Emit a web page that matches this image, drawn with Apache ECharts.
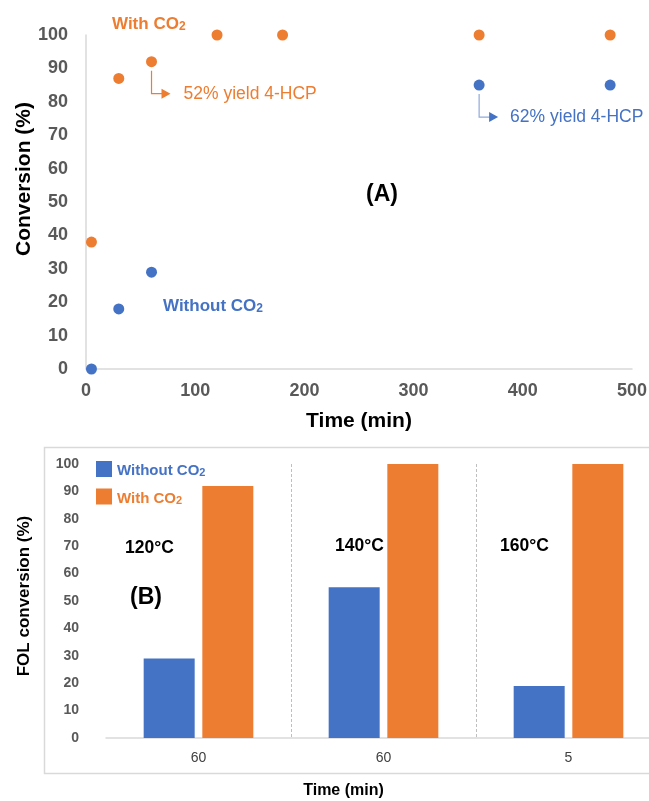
<!DOCTYPE html>
<html><head><meta charset="utf-8">
<script src="https://cdn.jsdelivr.net/npm/echarts@6/dist/echarts.min.js"></script>
<style>html,body{margin:0;padding:0;background:#fff}#c{width:649px;height:801px}</style>
</head><body><div id="c"></div>
<script>
// ---- Data: panel (A) conversion vs time ----
const withCO2Time = [5, 30, 60, 120, 180, 360, 480];
const withCO2Conv = [38, 87, 92, 100, 100, 100, 100];
const withoutCO2Time = [5, 30, 60, 360, 480];
const withoutCO2Conv = [0, 18, 29, 85, 85];
// ---- Data: panel (B) FOL conversion by temperature ----
const barCategories = ['60', '60', '5'];
const barTemps = ['120°C', '140°C', '160°C'];
const barWithout = [29, 55, 19];
const barWith = [92, 100, 100];

const BLUE = '#4472C4', ORANGE = '#ED7D31', GRAY = '#595959', AX = '#D9D9D9';
const FONT = '"Liberation Sans", Arial, sans-serif';

const pairs = (xs, ys) => xs.map((x, i) => [x, ys[i]]);
const co2 = (label) => '{b|' + label.replace('CO2', 'CO') + '}{s|2}';
function richCO(color, size) {
  return {
    b: { color, fontSize: size, fontWeight: 'bold', fontFamily: FONT, verticalAlign: 'bottom', lineHeight: size + 4 },
    s: { color, fontSize: Math.round(size * 0.7), fontWeight: 'bold', fontFamily: FONT, verticalAlign: 'bottom', lineHeight: size + 1 }
  };
}

const chart = echarts.init(document.getElementById('c'), null, { renderer: 'canvas' });
const option = {
  animation: false,
  backgroundColor: '#fff',
  grid: [
    { left: 86, right: 17, top: 35, bottom: 432, containLabel: false, outerBoundsMode: 'none' },
    { left: 106, right: -12, top: 464, bottom: 63, containLabel: false, outerBoundsMode: 'none' }
  ],
  legend: {
    left: 91, top: 456, orient: 'vertical', itemWidth: 16, itemHeight: 16, itemGap: 10,
    icon: 'rect',
    data: [
      { name: 'Without CO2', textStyle: { rich: richCO(BLUE, 15) } },
      { name: 'With CO2', textStyle: { rich: richCO(ORANGE, 15) } }
    ],
    formatter: (n) => co2(n),
    textStyle: { fontFamily: FONT, fontWeight: 'bold', fontSize: 15 }
  },
  xAxis: [
    {
      gridIndex: 0, type: 'value', min: 0, max: 500, interval: 100,
      name: 'Time (min)', nameLocation: 'middle', nameGap: 42,
      nameTextStyle: { fontFamily: FONT, fontWeight: 'bold', fontSize: 21, color: '#000' },
      axisLine: { show: true, lineStyle: { color: AX, width: 1.5 } },
      axisTick: { show: false }, splitLine: { show: false },
      axisLabel: { margin: 13, fontFamily: FONT, fontWeight: 'bold', fontSize: 18, color: GRAY }
    },
    {
      gridIndex: 1, type: 'category', data: barCategories,
      name: 'Time (min)', nameLocation: 'middle', nameGap: 45,
      nameTextStyle: { fontFamily: FONT, fontWeight: 'bold', fontSize: 16, color: '#000', padding: [0, 80, 0, 0] },
      axisLine: { show: true, lineStyle: { color: AX, width: 1.5 } },
      axisTick: { show: false },
      splitLine: { show: true, interval: (i) => i > 0, lineStyle: { color: '#BFBFBF', type: [3, 2], width: 1 } },
      axisLabel: { margin: 13, fontFamily: FONT, fontSize: 14, color: '#404040' }
    }
  ],
  yAxis: [
    {
      gridIndex: 0, type: 'value', min: 0, max: 100, interval: 10,
      name: 'Conversion (%)', nameLocation: 'middle', nameGap: 51, nameMoveOverlap: false,
      nameTextStyle: { fontFamily: FONT, fontWeight: 'bold', fontSize: 21, color: '#000', padding: [0, 0, 0, 46] },
      axisLine: { show: true, lineStyle: { color: AX, width: 1.5 } },
      axisTick: { show: false }, splitLine: { show: false },
      axisLabel: { margin: 18, fontFamily: FONT, fontWeight: 'bold', fontSize: 18, color: GRAY }
    },
    {
      gridIndex: 1, type: 'value', min: 0, max: 100, interval: 10,
      name: 'FOL conversion (%)', nameLocation: 'middle', nameGap: 73,
      nameTextStyle: { fontFamily: FONT, fontWeight: 'bold', fontSize: 17, color: '#000', padding: [0, 0, 0, 10] },
      axisLine: { show: false }, axisTick: { show: false }, splitLine: { show: false },
      axisLabel: { margin: 27, fontFamily: FONT, fontWeight: 'bold', fontSize: 14, color: GRAY }
    }
  ],
  series: [
    { name: 'With CO2 (A)', type: 'scatter', xAxisIndex: 0, yAxisIndex: 0, symbolSize: 11,
      itemStyle: { color: ORANGE, opacity: 1 }, data: pairs(withCO2Time, withCO2Conv) },
    { name: 'Without CO2 (A)', type: 'scatter', xAxisIndex: 0, yAxisIndex: 0, symbolSize: 11,
      itemStyle: { color: BLUE, opacity: 1 }, data: pairs(withoutCO2Time, withoutCO2Conv) },
    { name: 'Without CO2', type: 'bar', xAxisIndex: 1, yAxisIndex: 1, barWidth: 51, barGap: '15%',
      itemStyle: { color: BLUE }, data: barWithout },
    { name: 'With CO2', type: 'bar', xAxisIndex: 1, yAxisIndex: 1, barWidth: 51, barGap: '15%',
      itemStyle: { color: ORANGE }, data: barWith }
  ]
};
chart.setOption(option);

// ---- Annotations ----
function arrow(pt, color, lineColor) {
  const x = pt[0], y = pt[1];
  return [
    { type: 'polyline', silent: true, shape: { points: [[x, y + 9], [x, y + 32], [x + 11, y + 32]] },
      style: { stroke: lineColor, lineWidth: 1.2, fill: null } },
    { type: 'polygon', silent: true, shape: { points: [[x + 10, y + 27], [x + 19, y + 32], [x + 10, y + 37]] },
      style: { fill: color } }
  ];
}
const pO = chart.convertToPixel({ gridIndex: 0 }, [withCO2Time[2], withCO2Conv[2]]);
const pB = chart.convertToPixel({ gridIndex: 0 }, [withoutCO2Time[3], withoutCO2Conv[3]]);
function txt(left, top, text, size, color, weight, rich) {
  return { type: 'text', left, top, silent: true,
    style: { text, fontFamily: FONT, fontSize: size, fill: color, fontWeight: weight || 'normal', rich } };
}
const graphics = [
  // panel B frame
  { type: 'rect', silent: true, shape: { x: 44.5, y: 447.5, width: 640, height: 326 },
    style: { fill: null, stroke: AX, lineWidth: 1.5 } },
  txt(112, 16, co2('With CO2'), 17, ORANGE, 'bold', richCO(ORANGE, 17)),
  txt(163, 298, co2('Without CO2'), 17, BLUE, 'bold', richCO(BLUE, 17)),
  txt(pO[0] + 32, pO[1] + 23, '52% yield 4-HCP', 17.5, ORANGE),
  txt(pB[0] + 31, pB[1] + 23, '62% yield 4-HCP', 17.5, BLUE),
  txt(366, 183, '(A)', 23, '#000', 'bold'),
  txt(125, 539, barTemps[0], 17.5, '#000', 'bold'),
  txt(335, 537, barTemps[1], 17.5, '#000', 'bold'),
  txt(500, 537, barTemps[2], 17.5, '#000', 'bold'),
  txt(130, 586, '(B)', 23, '#000', 'bold'),
  ...arrow(pO, ORANGE, ORANGE),
  ...arrow(pB, BLUE, '#8FAADC')
];
chart.setOption({ graphic: graphics });
</script></body></html>
